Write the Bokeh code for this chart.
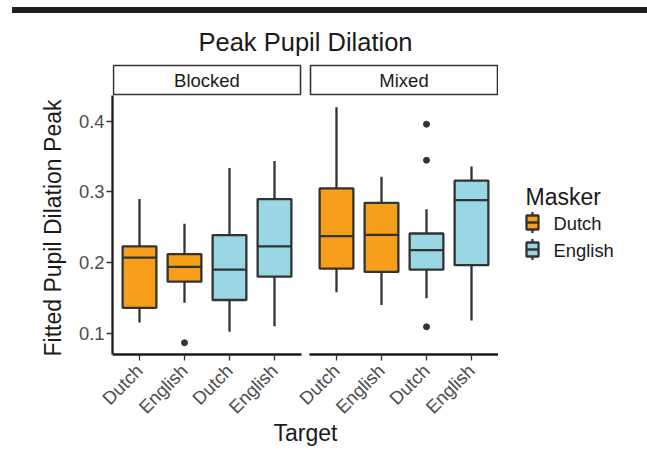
from math import pi
from bokeh.plotting import figure
from bokeh.models import Range1d, FixedTicker, ColumnDataSource, Div, Title
from bokeh.layouts import column, row
from bokeh.embed import file_html
from bokeh.resources import INLINE
from bokeh.core.properties import value

FONT = "Liberation Sans"

# ---------------- data ----------------
chart_title = "Peak Pupil Dilation"
facets = ["Blocked", "Mixed"]
targets = ["Dutch", "English", "Dutch", "English"]
maskers = ["Dutch", "Dutch", "English", "English"]
masker_levels = ["Dutch", "English"]
masker_colors = ["#F79E1B", "#99D7E5"]
x_title = "Target"
y_title = "Fitted Pupil Dilation Peak"
legend_title = "Masker"

blocked_lower = [0.115, 0.143, 0.102, 0.110]
blocked_q1 = [0.136, 0.173, 0.147, 0.180]
blocked_median = [0.207, 0.194, 0.190, 0.223]
blocked_q3 = [0.223, 0.212, 0.239, 0.290]
blocked_upper = [0.290, 0.255, 0.334, 0.344]
blocked_outliers = [[], [0.0865], [], []]

mixed_lower = [0.158, 0.140, 0.1495, 0.118]
mixed_q1 = [0.1915, 0.1868, 0.190, 0.1963]
mixed_median = [0.2374, 0.2393, 0.2176, 0.2885]
mixed_q3 = [0.305, 0.2847, 0.2412, 0.316]
mixed_upper = [0.420, 0.3216, 0.2757, 0.336]
mixed_outliers = [[], [], [0.396, 0.345, 0.109], []]

y_ticks = [0.1, 0.2, 0.3, 0.4]

# ---------------- layout constants (pixels) ----------------
W, H = 647, 455
BAR_H = 20
FRAME_L = 112
PANEL_TOP = 95
PANEL_BOT = 354
FRAME_BOT = 356
CAT_PX = 45.0
GAP_PX = 8.0
BOX_W = 0.75
INK = "#333333"
AXIS_INK = "#1A1A1A"
TEXT = "#1A1A1A"
TICK_TEXT = "#4D4D4D"
LW = 2.3

panels = [
    (blocked_lower, blocked_q1, blocked_median, blocked_q3, blocked_upper, blocked_outliers),
    (mixed_lower, mixed_q1, mixed_median, mixed_q3, mixed_upper, mixed_outliers),
]

all_vals = []
for pan in panels:
    for arr in pan[:5]:
        all_vals += arr
    for o in pan[5]:
        all_vals += o
vmin, vmax = min(all_vals), max(all_vals)
lo = vmin - 0.05 * (vmax - vmin)
hi = vmax + 0.05 * (vmax - vmin)
upp = (hi - lo) / (PANEL_BOT - PANEL_TOP)


def Y(py):
    return hi - (py - PANEL_TOP) * upp


def X(px):
    return 0.4 + (px - FRAME_L) / CAT_PX


n_cat = len(targets)
panel_span = n_cat + 0.2
offsets = [0.0, panel_span + GAP_PX / CAT_PX]
x_end = 0.4 + panel_span + offsets[1]
FRAME_R = FRAME_L + (x_end - 0.4) * CAT_PX

# ---------------- sources ----------------
xs, lows, q1s, meds, q3s, ups, cols, xl, xr = [], [], [], [], [], [], [], [], []
ox, oy = [], []
tick_pos, tick_lab = [], []
for off, pan in zip(offsets, panels):
    lower, q1, med, q3, upper, outl = pan
    for i in range(n_cat):
        x = i + 1 + off
        xs.append(x)
        xl.append(x - BOX_W / 2)
        xr.append(x + BOX_W / 2)
        lows.append(lower[i]); q1s.append(q1[i]); meds.append(med[i])
        q3s.append(q3[i]); ups.append(upper[i])
        cols.append(masker_colors[masker_levels.index(maskers[i])])
        for v in outl[i]:
            ox.append(x); oy.append(v)
        tick_pos.append(x)
        tick_lab.append(targets[i])

src = ColumnDataSource(dict(x=xs, lower=lows, q1=q1s, med=meds, q3=q3s, upper=ups,
                            color=cols, xl=xl, xr=xr))

# ---------------- top bar ----------------
bar = Div(text='<div style="margin:7px 0 0 12px;width:635px;height:6px;background:#1E1E1E;"></div>',
          width=W, height=BAR_H, margin=0)

# ---------------- main figure ----------------
p = figure(frame_width=int(round(FRAME_R - FRAME_L)), frame_height=FRAME_BOT - BAR_H,
           min_border_left=FRAME_L, min_border_right=0, min_border_top=0,
           min_border_bottom=H - FRAME_BOT,
           x_range=Range1d(0.4, x_end), y_range=Range1d(Y(FRAME_BOT), Y(BAR_H)),
           output_backend="svg", toolbar_location=None)
p.outline_line_color = None
p.grid.visible = False

# y axis
ya = p.yaxis[0]
ya.ticker = FixedTicker(ticks=y_ticks)
ya.bounds = (lo, hi)
ya.axis_line_color = AXIS_INK
ya.axis_line_width = LW
ya.major_tick_line_color = INK
ya.major_tick_line_width = 1.3
ya.major_tick_out = 6
ya.major_tick_in = 0
ya.minor_tick_line_color = None
ya.major_label_text_font = FONT
ya.major_label_text_font_size = "18.4px"
ya.major_label_text_color = TICK_TEXT
ya.major_label_standoff = 2

# y axis title, centred on the panel (not on the whole frame)
p.add_layout(Title(text=y_title, align="left", offset=0, standoff=20,
                   text_font=FONT, text_font_size="23px", text_font_style="normal",
                   text_color=TEXT), "left")

# x axis
xa = p.xaxis[0]
xa.ticker = FixedTicker(ticks=tick_pos)
xa.major_label_overrides = {t: l for t, l in zip(tick_pos, tick_lab)}
xa.major_label_orientation = pi / 4
xa.axis_line_color = None
xa.major_tick_line_color = INK
xa.major_tick_line_width = 1.3
xa.major_tick_out = 4
xa.major_tick_in = 2
xa.minor_tick_line_color = None
xa.major_label_text_font = FONT
xa.major_label_text_font_size = "18.4px"
xa.major_label_text_color = TICK_TEXT
xa.major_label_standoff = 7
xa.axis_label = x_title
xa.axis_label_text_font = FONT
xa.axis_label_text_font_size = "23px"
xa.axis_label_text_font_style = "normal"
xa.axis_label_text_color = TEXT
xa.axis_label_standoff = -8

# x axis lines (one per facet)
p.segment(x0=[0.4 + o for o in offsets], x1=[0.4 + panel_span + o for o in offsets],
          y0=[lo, lo], y1=[lo, lo], line_color=AXIS_INK, line_width=LW)

# strips
p.quad(left=[0.4 + o + 1 / CAT_PX for o in offsets],
       right=[0.4 + panel_span + o - 1 / CAT_PX for o in offsets],
       top=[Y(65)] * 2, bottom=[Y(94)] * 2, fill_color="white", line_color=INK, line_width=1.6)
p.text(x=[0.4 + panel_span / 2 + o for o in offsets], y=[Y(80)] * 2, text=facets,
       text_font=value(FONT), text_font_size="18.5px", text_color=TEXT,
       text_align="center", text_baseline="middle")

# title
p.text(x=[(0.4 + x_end) / 2], y=[Y(41)], text=[chart_title],
       text_font=value(FONT), text_font_size="25.5px", text_color=TEXT,
       text_align="center", text_baseline="middle")

# boxplots
p.segment(x0="x", y0="q3", x1="x", y1="upper", source=src, line_color=INK, line_width=LW)
p.segment(x0="x", y0="q1", x1="x", y1="lower", source=src, line_color=INK, line_width=LW)
p.vbar(x="x", width=BOX_W, top="q3", bottom="q1", source=src, fill_color="color",
       line_color=INK, line_width=LW)
p.segment(x0="xl", y0="med", x1="xr", y1="med", source=src, line_color=INK, line_width=LW)
p.scatter(x=ox, y=oy, size=6, fill_color=INK, line_color=INK)

# ---------------- legend panel ----------------
lg = figure(frame_width=int(round(W - FRAME_R)), frame_height=FRAME_BOT - BAR_H,
            min_border=0, min_border_bottom=H - FRAME_BOT,
            x_range=Range1d(X(FRAME_R), X(W)), y_range=Range1d(Y(FRAME_BOT), Y(BAR_H)),
            x_axis_location=None, y_axis_location=None,
            output_backend="svg", toolbar_location=None)
lg.outline_line_color = None
lg.grid.visible = False

lg.text(x=[X(525)], y=[Y(196)], text=[legend_title], text_font=value(FONT),
        text_font_size="23px", text_color=TEXT, text_align="left", text_baseline="middle")
kx = X(532)
for i, (lev, colr) in enumerate(zip(masker_levels, masker_colors)):
    cy = 222 + 27 * i
    lg.segment(x0=[kx], x1=[kx], y0=[Y(cy - 10.5)], y1=[Y(cy + 10.5)], line_color=INK, line_width=LW)
    lg.vbar(x=[kx], width=12 / CAT_PX, top=[Y(cy - 7)], bottom=[Y(cy + 7)], fill_color=colr,
            line_color=INK, line_width=LW)
    lg.segment(x0=[kx - 6 / CAT_PX], x1=[kx + 6 / CAT_PX], y0=[Y(cy)], y1=[Y(cy)],
               line_color=INK, line_width=LW)
    lg.text(x=[X(553)], y=[Y(cy + 1)], text=[lev], text_font=value(FONT), text_font_size="18.4px",
            text_color=TEXT, text_align="left", text_baseline="middle")

layout = column(bar, row(p, lg, spacing=0), spacing=0)
open("out.html", "w").write(file_html(layout, INLINE))
